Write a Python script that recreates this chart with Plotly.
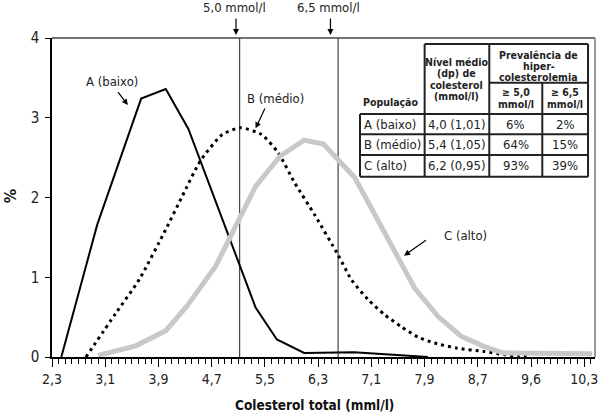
import plotly.graph_objects as go

# ---------------- data ----------------
A_x = [2.44, 2.98, 3.64, 4.01, 4.35, 5.36, 5.68, 6.09, 6.84, 7.65, 7.95]
A_y = [0.0, 1.66, 3.24, 3.36, 2.86, 0.62, 0.22, 0.05, 0.06, 0.01, 0.0]

B_x = [2.81, 3.26, 3.61, 4.01, 4.26, 4.53, 4.86, 5.13, 5.45, 5.70, 5.95, 6.25, 6.60,
       6.80, 7.05, 7.30, 7.55, 7.80, 8.05, 8.39, 8.79, 9.09, 9.30, 9.50]
B_y = [0.0, 0.55, 0.97, 1.60, 2.02, 2.46, 2.79, 2.875, 2.79, 2.56, 2.18, 1.78, 1.28,
       0.97, 0.72, 0.53, 0.38, 0.25, 0.175, 0.11, 0.07, 0.03, 0.01, 0.0]

C_x = [2.99, 3.56, 4.01, 4.33, 4.76, 5.11, 5.36, 5.73, 6.09, 6.38, 6.85, 7.75, 8.10,
       8.45, 8.80, 9.09, 10.42]
C_y = [0.02, 0.14, 0.33, 0.64, 1.14, 1.72, 2.14, 2.52, 2.72, 2.67, 2.25, 0.865, 0.51,
       0.26, 0.13, 0.05, 0.04]

series_names = ["A (baixo)", "B (médio)", "C (alto)"]

x_tick_vals = [2.3, 3.1, 3.9, 4.7, 5.5, 6.3, 7.1, 7.9, 8.7, 9.5, 10.3]
x_tick_text = ["2,3", "3,1", "3,9", "4,7", "5,5", "6,3", "7,1", "7,9", "8,7", "9,6", "10,3"]
y_tick_vals = [0, 1, 2, 3, 4]

thresholds = [5.12, 6.60]
threshold_labels = ["5,0 mmol/l", "6,5 mmol/l"]

table_header = ["População", ["Nível médio", "(dp) de", "colesterol", "(mmol/l)"],
                ["Prevalência de", "hiper-", "colesterolemia"],
                ["≥ 5,0", "mmol/l"], ["≥ 6,5", "mmol/l"]]
table_rows = [
    ["A (baixo)", "4,0 (1,01)", "6%", "2%"],
    ["B (médio)", "5,4 (1,05)", "64%", "15%"],
    ["C (alto)", "6,2 (0,95)", "93%", "39%"],
]

# ---------------- layout geometry ----------------
W, H = 600, 414
ML, MR, MT, MB = 52, 2, 38, 57
PW, PH = W - ML - MR, H - MT - MB
FONT = "DejaVu Sans Condensed, Liberation Sans, sans-serif"


def px(x):
    return (x - ML) / PW


def py(y):
    return (H - MB - y) / PH


fig = go.Figure()
fig.add_trace(go.Scatter(x=A_x, y=A_y, mode="lines", name=series_names[0],
                         line=dict(color="black", width=2)))
fig.add_trace(go.Scatter(x=B_x, y=B_y, mode="lines", name=series_names[1],
                         line=dict(color="black", width=3, dash="3px,4px",
                                   shape="spline", smoothing=0.6)))
fig.add_trace(go.Scatter(x=C_x, y=C_y, mode="lines", name=series_names[2],
                         line=dict(color="#c8c8c8", width=5)))

shapes = []
for t in thresholds:
    shapes.append(dict(type="line", xref="x", yref="paper", x0=t, x1=t, y0=0, y1=1,
                       line=dict(color="#444", width=1.2), layer="below"))
# frame top and right
shapes.append(dict(type="line", xref="paper", yref="paper", x0=0, x1=1, y0=1, y1=1,
                   line=dict(color="#444", width=1.5)))
shapes.append(dict(type="line", xref="paper", yref="paper", x0=1, x1=1, y0=0, y1=1,
                   line=dict(color="#999", width=2)))

# table lines (pixel coords)
tx = [361.7, 426.7, 491.7, 545, 591]
ty = [44, 82.7, 114, 134.3, 155, 176.7]
tl = []
tl.append((tx[1], ty[0], tx[4], ty[0]))
tl.append((tx[2], ty[1], tx[4], ty[1]))
for yy in ty[2:]:
    tl.append((tx[0], yy, tx[4], yy))
tl.append((tx[0], ty[2], tx[0], ty[5]))
tl.append((tx[1], ty[0], tx[1], ty[5]))
tl.append((tx[2], ty[0], tx[2], ty[5]))
tl.append((tx[3], ty[1], tx[3], ty[5]))
tl.append((tx[4], ty[0], tx[4], ty[5]))
for (x0, y0, x1, y1) in tl:
    shapes.append(dict(type="line", xref="paper", yref="paper", x0=px(x0), y0=py(y0),
                       x1=px(x1), y1=py(y1), line=dict(color="#222", width=2)))

ann = []


def text(x, y, s, size=13, bold=False, xanchor="center", color="#222"):
    ann.append(dict(xref="paper", yref="paper", x=px(x), y=py(y), text=f"<b>{s}</b>" if bold else s,
                    showarrow=False, xanchor=xanchor, yanchor="middle",
                    font=dict(family=FONT, size=size, color=color)))


def arrow(x0, y0, x1, y1):
    ann.append(dict(xref="paper", yref="paper", x=px(x1), y=py(y1), ax=x0 - x1, ay=y0 - y1,
                    text="", showarrow=True, arrowhead=2, arrowsize=1, arrowwidth=1.2,
                    arrowcolor="black"))


# threshold labels
text(236, 8, threshold_labels[0], size=13)
text(330, 8, threshold_labels[1], size=13)
arrow(237, 17, 237, 35)
arrow(332, 17, 332, 35)

# series labels
text(112, 81, series_names[0], size=13)
arrow(117.3, 90.7, 128.3, 105)
text(277, 98, series_names[1], size=13)
arrow(266.7, 107, 256.7, 128.3)
text(444, 235, series_names[2], size=13, xanchor="left")
arrow(429.3, 239.3, 406, 255.7)

# table header
HS = 10.5
text(392.5, 101.5, table_header[0], size=HS, bold=True)
for i, s in enumerate(table_header[1]):
    text(459.2, 62 + i * 11.4, s, size=HS, bold=True)
for i, s in enumerate(table_header[2]):
    text(541.3, 55 + i * 10.8, s, size=HS, bold=True)
for i, s in enumerate(table_header[3]):
    text(518.3, 92.5 + i * 11.5, s, size=HS, bold=True)
for i, s in enumerate(table_header[4]):
    text(568, 92.5 + i * 11.5, s, size=HS, bold=True)
# table body
row_c = [(ty[2] + ty[3]) / 2, (ty[3] + ty[4]) / 2, (ty[4] + ty[5]) / 2]
col_c = [None, (tx[1] + tx[2]) / 2, (tx[2] + tx[3]) / 2, (tx[3] + tx[4]) / 2]
for r, row in enumerate(table_rows):
    text(363.5, row_c[r], row[0], size=13, xanchor="left")
    for c in range(1, 4):
        text(col_c[c], row_c[r], row[c], size=13)

# axis titles
text(316, 405, "Colesterol total (mml/l)", size=13.5, bold=True, color="#111")
ann.append(dict(xref="paper", yref="paper", x=px(10), y=py(196), text="<b>%</b>",
                showarrow=False, textangle=-90, xanchor="center", yanchor="middle",
                font=dict(family=FONT, size=16, color="#111")))

fig.update_layout(
    width=W, height=H,
    margin=dict(l=ML, r=MR, t=MT, b=MB),
    plot_bgcolor="white", paper_bgcolor="white",
    showlegend=False,
    shapes=shapes, annotations=ann,
    font=dict(family=FONT, size=14, color="#222"),
    xaxis=dict(range=[2.3, 2.3 + PW / 66.9], tickmode="array", tickvals=x_tick_vals,
               ticktext=x_tick_text, showgrid=False, zeroline=False,
               showline=True, linecolor="black", linewidth=1.5,
               ticks="outside", ticklen=8, tickwidth=1.2, tickcolor="black",
               ticklabeloverflow="allow",
               tickfont=dict(family=FONT, size=14, color="#222"),
               minor=dict(tickmode="linear", tick0=2.3, dtick=0.1, ticks="outside",
                          ticklen=5, tickwidth=1, tickcolor="black")),
    yaxis=dict(range=[0, 4], tickvals=y_tick_vals, showgrid=False, zeroline=False,
               showline=True, linecolor="black", linewidth=1.5,
               ticks="outside", ticklen=5, tickcolor="black",
               ticklabelstandoff=3,
               tickfont=dict(family=FONT, size=15, color="#222")),
)

fig.write_html("out.html", config={"displayModeBar": False},
               post_script="document.body.style.margin='0px';")
